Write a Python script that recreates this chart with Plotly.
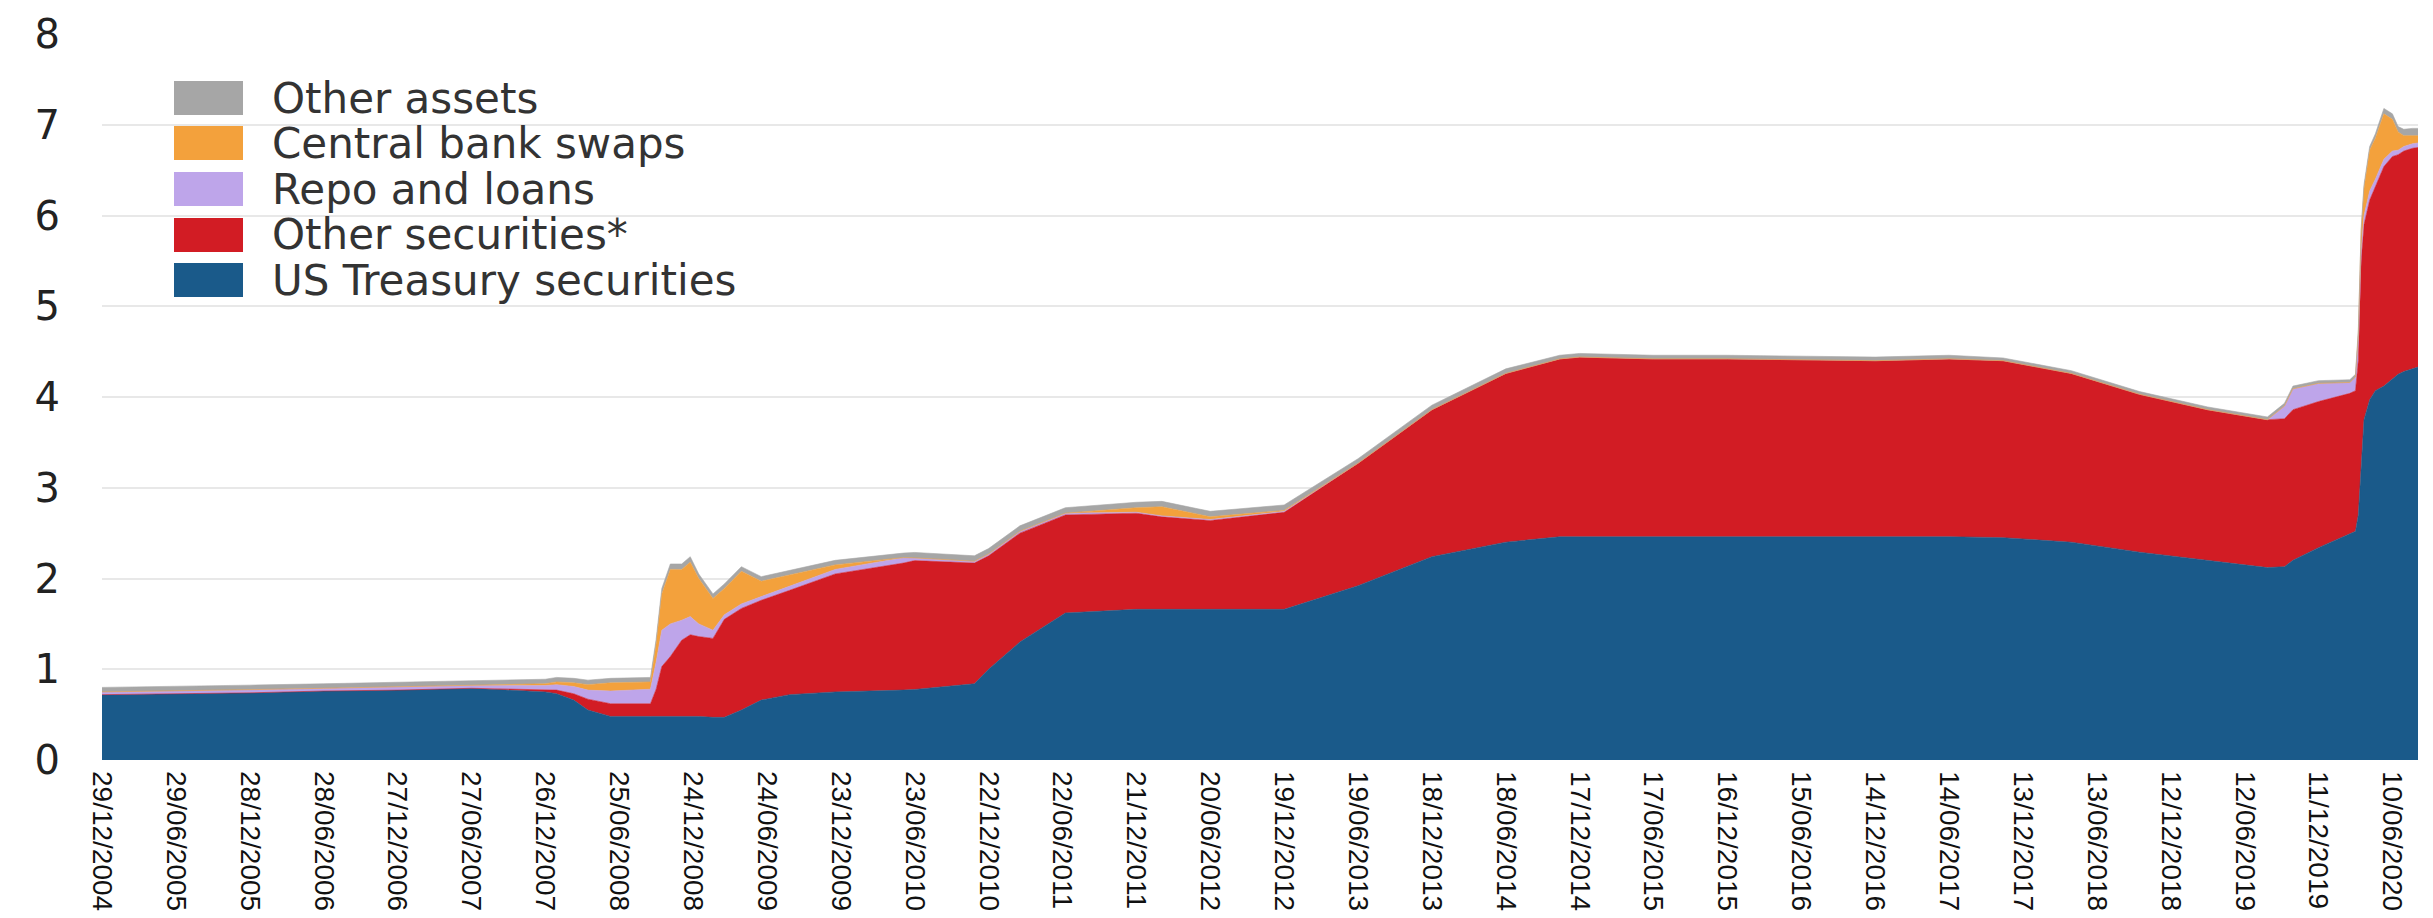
import plotly.graph_objects as go

# ---- data (US$ trillion, layer thickness) ----
dates = [
    "2004-12-29", "2005-06-29", "2005-12-28", "2006-06-28", "2006-12-27", "2007-06-27",
    "2007-12-26", "2008-01-23", "2008-03-05", "2008-04-09", "2008-06-04", "2008-09-10",
    "2008-09-24", "2008-10-08", "2008-10-29", "2008-11-26", "2008-12-17", "2009-01-07",
    "2009-02-11", "2009-03-11", "2009-04-22", "2009-06-10", "2009-08-19", "2009-12-09",
    "2010-05-26", "2010-06-23", "2010-11-17", "2010-12-22", "2011-03-09", "2011-06-29",
    "2011-12-21", "2012-02-22", "2012-06-20", "2012-12-19", "2013-06-19", "2013-12-18",
    "2014-06-18", "2014-10-29", "2014-12-17", "2015-06-17", "2015-12-16", "2016-06-15",
    "2016-12-14", "2017-06-14", "2017-10-25", "2018-04-11", "2018-09-26", "2019-03-13",
    "2019-08-07", "2019-09-18", "2019-10-09", "2019-12-11", "2020-02-26", "2020-03-11",
    "2020-03-18", "2020-03-25", "2020-04-01", "2020-04-15", "2020-04-29", "2020-05-20",
    "2020-06-10", "2020-06-24", "2020-07-08", "2020-07-29", "2020-08-12",
]
us_treasury = [
    0.72, 0.73, 0.74, 0.76, 0.77, 0.79,
    0.75, 0.73, 0.66, 0.55, 0.48, 0.48,
    0.48, 0.48, 0.48, 0.48, 0.48, 0.48,
    0.47, 0.47, 0.55, 0.66, 0.72, 0.75,
    0.77, 0.777, 0.84, 1.00, 1.30, 1.62,
    1.66, 1.66, 1.66, 1.66, 1.92, 2.24,
    2.40, 2.46, 2.46, 2.46, 2.46, 2.46,
    2.46, 2.46, 2.45, 2.40, 2.29, 2.20,
    2.12, 2.13, 2.20, 2.34, 2.49, 2.52,
    2.70, 3.20, 3.75, 3.97, 4.07, 4.12,
    4.20, 4.25, 4.28, 4.31, 4.33,
]
other_securities = [
    0.0, 0.0, 0.0, 0.0, 0.0, 0.0,
    0.02, 0.04, 0.07, 0.12, 0.14, 0.14,
    0.30, 0.55, 0.66, 0.84, 0.90, 0.88,
    0.87, 1.08, 1.12, 1.10, 1.15, 1.30,
    1.40, 1.42, 1.33, 1.25, 1.20, 1.08,
    1.06, 1.02, 0.98, 1.07, 1.35, 1.62,
    1.86, 1.96, 1.98, 1.96, 1.96, 1.95,
    1.94, 1.96, 1.95, 1.86, 1.74, 1.66,
    1.63, 1.63, 1.66, 1.61, 1.55, 1.55,
    1.70, 2.30, 2.15, 2.20, 2.25, 2.42,
    2.45, 2.42, 2.43, 2.43, 2.42,
]
repo_loans = [
    0.03, 0.03, 0.035, 0.03, 0.035, 0.03,
    0.05, 0.06, 0.08, 0.10, 0.14, 0.16,
    0.30, 0.40, 0.36, 0.22, 0.20, 0.14,
    0.09, 0.05, 0.05, 0.04, 0.04, 0.05,
    0.06, 0.03, 0.02, 0.02, 0.02, 0.02,
    0.01, 0.01, 0.01, 0.01, 0.0, 0.0,
    0.0, 0.0, 0.0, 0.0, 0.0, 0.0,
    0.0, 0.0, 0.0, 0.0, 0.0, 0.0,
    0.0, 0.14, 0.23, 0.20, 0.12, 0.15,
    0.25, 0.12, 0.10, 0.10, 0.08, 0.08,
    0.06, 0.05, 0.05, 0.05, 0.05,
]
cb_swaps = [
    0.0, 0.0, 0.0, 0.0, 0.0, 0.0,
    0.02, 0.03, 0.04, 0.06, 0.09, 0.08,
    0.20, 0.40, 0.60, 0.56, 0.60, 0.50,
    0.35, 0.29, 0.36, 0.17, 0.13, 0.05,
    0.0, 0.0, 0.0, 0.0, 0.0, 0.0,
    0.05, 0.10, 0.03, 0.01, 0.0, 0.0,
    0.0, 0.0, 0.0, 0.0, 0.0, 0.0,
    0.0, 0.0, 0.0, 0.0, 0.0, 0.0,
    0.0, 0.0, 0.0, 0.0, 0.0, 0.0,
    0.05, 0.20, 0.30, 0.45, 0.45, 0.50,
    0.35, 0.20, 0.12, 0.09, 0.08,
]
other_assets = [
    0.05, 0.05, 0.05, 0.05, 0.05, 0.05,
    0.05, 0.05, 0.05, 0.05, 0.05, 0.05,
    0.05, 0.06, 0.06, 0.06, 0.06, 0.05,
    0.05, 0.05, 0.05, 0.05, 0.05, 0.05,
    0.05, 0.06, 0.06, 0.06, 0.06, 0.06,
    0.06, 0.06, 0.06, 0.06, 0.05, 0.05,
    0.05, 0.04, 0.04, 0.04, 0.04, 0.04,
    0.04, 0.04, 0.03, 0.03, 0.03, 0.03,
    0.03, 0.03, 0.03, 0.03, 0.03, 0.03,
    0.04, 0.04, 0.04, 0.04, 0.05, 0.06,
    0.06, 0.06, 0.07, 0.08, 0.08,
]

series_names = ["US Treasury securities", "Other securities*", "Repo and loans",
                "Central bank swaps", "Other assets"]
series_values = [us_treasury, other_securities, repo_loans, cb_swaps, other_assets]
series_colors = ["#1a5a8a", "#d21c24", "#bea5ea", "#f3a13c", "#a6a6a6"]

tick_dates = [
    "2004-12-29", "2005-06-29", "2005-12-28", "2006-06-28", "2006-12-27", "2007-06-27",
    "2007-12-26", "2008-06-25", "2008-12-24", "2009-06-24", "2009-12-23", "2010-06-23",
    "2010-12-22", "2011-06-22", "2011-12-21", "2012-06-20", "2012-12-19", "2013-06-19",
    "2013-12-18", "2014-06-18", "2014-12-17", "2015-06-17", "2015-12-16", "2016-06-15",
    "2016-12-14", "2017-06-14", "2017-12-13", "2018-06-13", "2018-12-12", "2019-06-12",
    "2019-12-11", "2020-06-10",
]
tick_labels = [
    "29/12/2004", "29/06/2005", "28/12/2005", "28/06/2006", "27/12/2006", "27/06/2007",
    "26/12/2007", "25/06/2008", "24/12/2008", "24/06/2009", "23/12/2009", "23/06/2010",
    "22/12/2010", "22/06/2011", "21/12/2011", "20/06/2012", "19/12/2012", "19/06/2013",
    "18/12/2013", "18/06/2014", "17/12/2014", "17/06/2015", "16/12/2015", "15/06/2016",
    "14/12/2016", "14/06/2017", "13/12/2017", "13/06/2018", "12/12/2018", "12/06/2019",
    "11/12/2019", "10/06/2020",
]
y_ticks = [0, 1, 2, 3, 4, 5, 6, 7, 8]

# legend order (top to bottom)
legend_names = ["Other assets", "Central bank swaps", "Repo and loans",
                "Other securities*", "US Treasury securities"]
legend_colors = ["#a6a6a6", "#f3a13c", "#bea5ea", "#d21c24", "#1a5a8a"]

# ---- figure ----
W, H = 2433, 918
ML, MR, MT, MB = 94, 23, 26, 166
PW, PH = W - ML - MR, H - MT - MB

fig = go.Figure()
for name, vals, col in zip(series_names, series_values, series_colors):
    fig.add_trace(go.Scatter(
        x=dates, y=vals, name=name, mode="lines", stackgroup="one",
        line=dict(width=0.6, color=col), fillcolor=col, showlegend=False,
        hoverinfo="skip",
    ))

FONT = "Liberation Sans, Arial, sans-serif"
WIDE = "DejaVu Sans, Liberation Sans, sans-serif"

def px_x(px):
    return (px - ML) / PW

def px_y(py):
    return (H - MB - py) / PH

shapes = []
annotations = []
row_centers = [90, 135, 181, 227, 272]
for name, col, yc in zip(legend_names, legend_colors, row_centers):
    shapes.append(dict(type="rect", xref="paper", yref="paper",
                       x0=px_x(166), x1=px_x(235), y0=px_y(yc + 17), y1=px_y(yc - 17),
                       fillcolor=col, line=dict(width=0)))
    annotations.append(dict(xref="paper", yref="paper", x=px_x(262), y=px_y(yc),
                            xanchor="left", yanchor="middle", text=name, showarrow=False,
                            font=dict(family=WIDE, size=42, color="#333333")))

fig.update_layout(
    width=W, height=H,
    margin=dict(l=ML, r=MR, t=MT, b=MB, autoexpand=False),
    paper_bgcolor="white", plot_bgcolor="white",
    shapes=shapes, annotations=annotations,
    showlegend=False,
    xaxis=dict(
        type="date", range=[dates[0], dates[-1]], automargin=False,
        tickmode="array", tickvals=tick_dates, ticktext=tick_labels,
        tickangle=90, showgrid=False, zeroline=False, showline=False,
        ticks="", ticklabelstandoff=10,
        tickfont=dict(family=FONT, size=28, color="#111111"),
    ),
    yaxis=dict(
        range=[0, 8], tickmode="array", tickvals=y_ticks, automargin=False,
        showgrid=True, gridcolor="#e8e8e8", gridwidth=2,
        zeroline=False, showline=False, ticks="", ticklabelstandoff=41,
        tickfont=dict(family=WIDE, size=40, color="#222222"),
    ),
)

fig.write_html("out.html")
